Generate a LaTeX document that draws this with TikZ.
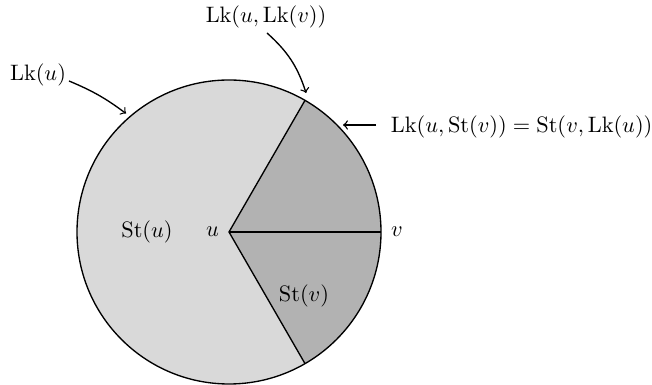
\documentclass[tikz,border=0pt]{standalone}
\usetikzlibrary{positioning}
\tikzset{
  pointer/.style={->,semithick},
  starfill/.style={fill=gray!30},
  linkfill/.style={fill=gray!60}
}
\begin{document}
\begin{tikzpicture}[x=0.448pt,y=-0.448pt]
  \useasboundingbox (0,0) rectangle (652,385);
  % the disc and the star of v
  \coordinate (u) at (229,232);
  \path (u) ++(-60:152) coordinate (ptop)
        (u) ++(60:152) coordinate (pbot)
        (u) ++(0:152) coordinate (pv);
  \fill[starfill] (u) circle[radius=152];
  \fill[linkfill] (u) -- (pbot) arc[start angle=60,end angle=-60,radius=152] -- cycle;
  \draw[semithick] (u) circle[radius=152];
  \draw[semithick] (ptop) -- (u) -- (pbot);
  \draw[semithick] (u) -- (pv);
  % labels
  \node[left=1pt of u] (lu) {$u$};
  \node[right=1pt of pv] (lv) {$v$};
  \node (stu) at (147,232) {$\mathrm{St}(u)$};
  \node (stv) at (304,296) {$\mathrm{St}(v)$};
  \node (lku) at (38,75) {$\mathrm{Lk}(u)$};
  \node (lkulkv) at (266,17) {$\mathrm{Lk}(u,\mathrm{Lk}(v))$};
  \node[anchor=west] (lkust) at (383,127) {$\mathrm{Lk}(u,\mathrm{St}(v))=\mathrm{St}(v,\mathrm{Lk}(u))$};
  % pointers
  \path (u) ++(-131:157) coordinate (plku)
        (u) ++(-61:159) coordinate (plkulkv);
  \coordinate (slku) at (69,81);
  \coordinate (slkulkv) at (267,33);
  \coordinate (slkust) at (376,125);
  \coordinate (plkust) at (343,125);
  \draw[pointer] (slku) to[bend left=7] (plku);
  \draw[pointer] (slkulkv) to[bend left=15] (plkulkv);
  \draw[pointer] (slkust) -- (plkust);
\end{tikzpicture}
\end{document}
